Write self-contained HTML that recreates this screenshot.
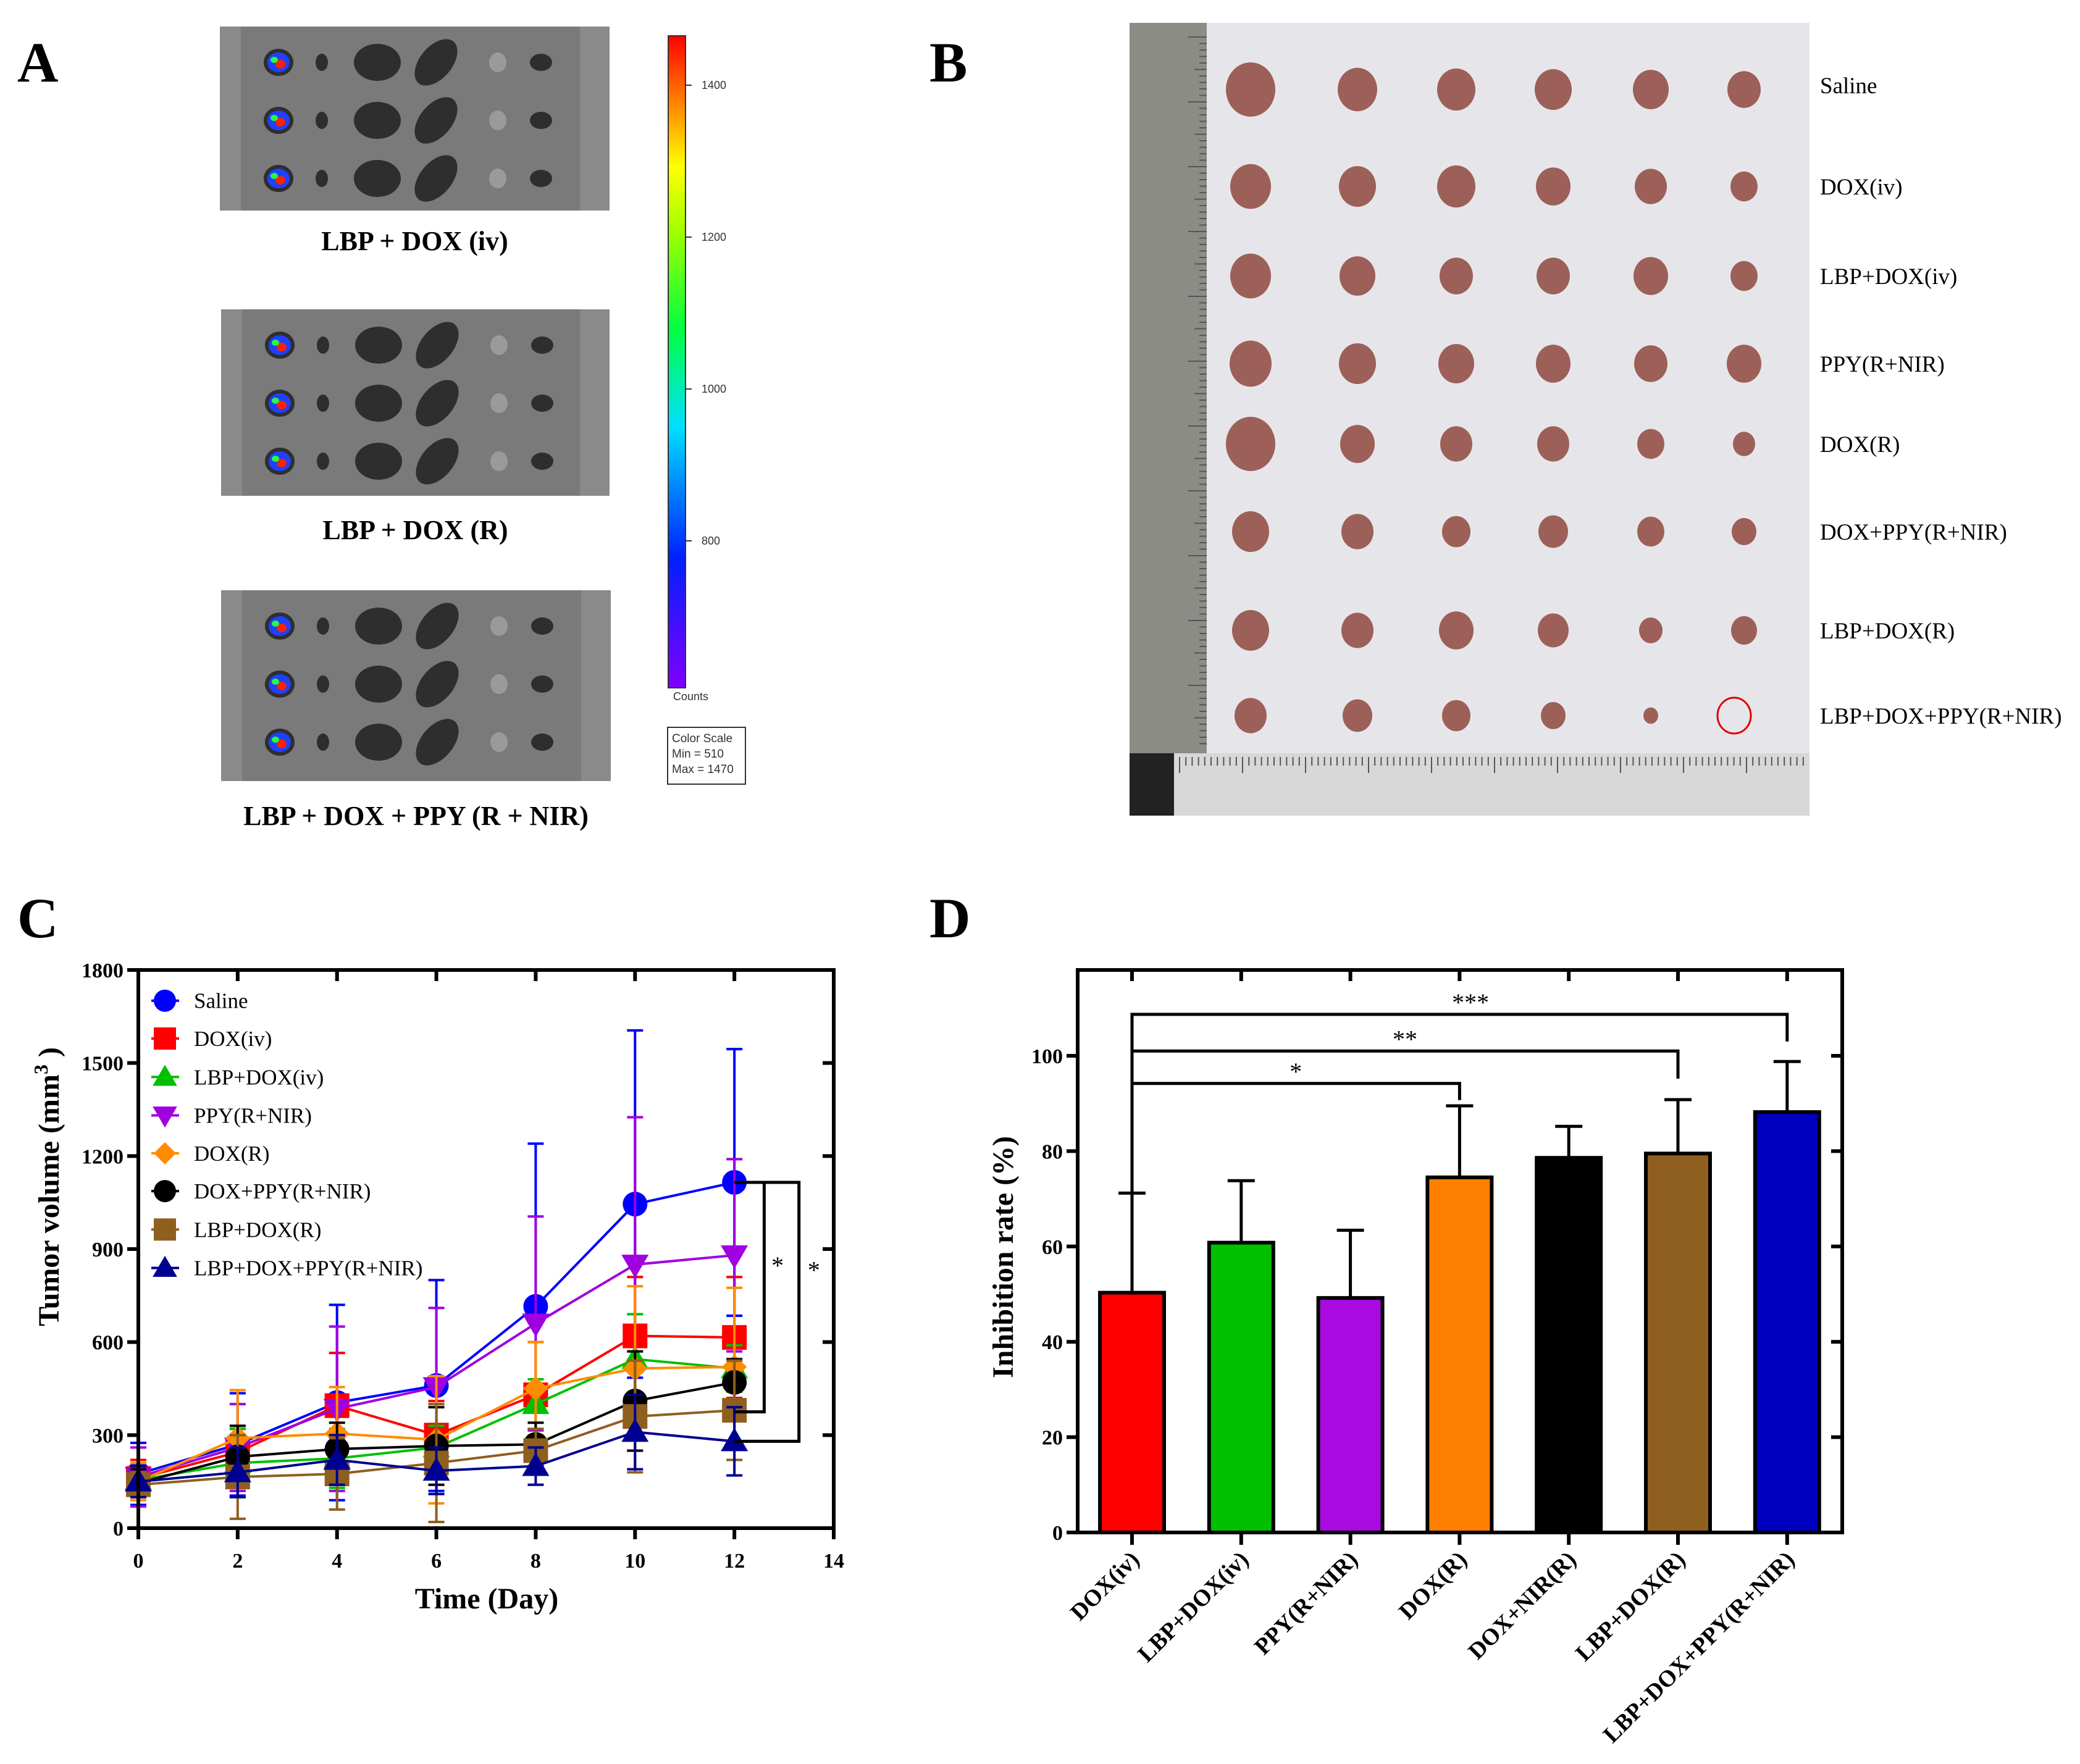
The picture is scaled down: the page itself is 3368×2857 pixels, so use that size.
<!DOCTYPE html>
<html><head><meta charset="utf-8"><style>
html,body{margin:0;padding:0;background:#fff;}
svg{display:block;font-family:"Liberation Serif",serif;}
</style></head><body>
<svg id="fig" width="3368" height="2857" viewBox="0 0 3368 2857" xmlns="http://www.w3.org/2000/svg">
<rect width="3368" height="2857" fill="#fff"/>
<g id="panelA"></g>
<g id="panelB"></g>
<g id="panelC"></g>
<g id="panelD"></g>
</svg>
<script>
// ---- Panel C data ----
const days = [0, 2, 4, 6, 8, 10, 12];
const xTicksC = [0, 2, 4, 6, 8, 10, 12, 14];
const yTicksC = [0, 300, 600, 900, 1200, 1500, 1800];
const seriesNames = ["Saline", "DOX(iv)", "LBP+DOX(iv)", "PPY(R+NIR)", "DOX(R)", "DOX+PPY(R+NIR)", "LBP+DOX(R)", "LBP+DOX+PPY(R+NIR)"];
const seriesColors = ["#0000ff", "#ff0000", "#00c000", "#a000e0", "#ff8c00", "#000000", "#8f5f20", "#000090"];
const seriesMarkers = ["circle", "square", "triangle", "tridown", "diamond", "circle", "square", "triangle"];
const salineVals = [175, 270, 405, 460, 715, 1045, 1115];
const salineErr = [100, 165, 315, 340, 525, 560, 430];
const doxIvVals = [160, 245, 395, 300, 430, 620, 615];
const doxIvErr = [60, 75, 170, 110, 170, 190, 195];
const lbpDoxIvVals = [155, 210, 225, 260, 400, 545, 515];
const lbpDoxIvErr = [45, 110, 95, 70, 80, 145, 75];
const ppyVals = [165, 260, 385, 455, 660, 850, 880];
const ppyErr = [95, 140, 265, 255, 345, 475, 310];
const doxRVals = [150, 290, 305, 285, 450, 515, 520];
const doxRErr = [60, 155, 150, 205, 150, 265, 255];
const doxPpyVals = [145, 230, 255, 265, 270, 410, 470];
const doxPpyErr = [45, 100, 85, 125, 70, 160, 75];
const lbpDoxRVals = [140, 165, 175, 210, 250, 360, 380];
const lbpDoxRErr = [40, 135, 115, 190, 70, 180, 160];
const lbpDoxPpyVals = [150, 180, 220, 185, 200, 310, 280];
const lbpDoxPpyErr = [50, 80, 80, 75, 60, 120, 110];
const allVals = [salineVals, doxIvVals, lbpDoxIvVals, ppyVals, doxRVals, doxPpyVals, lbpDoxRVals, lbpDoxPpyVals];
const allErr = [salineErr, doxIvErr, lbpDoxIvErr, ppyErr, doxRErr, doxPpyErr, lbpDoxRErr, lbpDoxPpyErr];

// ---- Panel D data ----
const categoriesD = ["DOX(iv)", "LBP+DOX(iv)", "PPY(R+NIR)", "DOX(R)", "DOX+NIR(R)", "LBP+DOX(R)", "LBP+DOX+PPY(R+NIR)"];
const inhibitionVals = [50.3, 60.8, 49.2, 74.5, 78.6, 79.5, 88.2];
const inhibitionErrTop = [71.2, 73.8, 63.4, 89.5, 85.2, 90.8, 98.8];
const barColors = ["#ff0000", "#00c000", "#a80ae0", "#ff8000", "#000000", "#8f5f20", "#0000c0"];
const yTicksD = [0, 20, 40, 60, 80, 100];

const NS = "http://www.w3.org/2000/svg";
function mk(parent, tag, attrs, text) {
  const e = document.createElementNS(NS, tag);
  for (const k in attrs) e.setAttribute(k, attrs[k]);
  if (text !== undefined) e.textContent = text;
  parent.appendChild(e);
  return e;
}

// ================= Panel A =================
(function(){
  const g = document.getElementById('panelA');
  const lab = mk(g, 'text', {x: 28, y: 132, 'font-size': 92, 'font-weight': 'bold'}, 'A');
  
  
  const plates = [[356, 43, 631, 298], [358, 501, 629, 302], [358, 956, 631, 309]];
  const captions = ["LBP + DOX (iv)", "LBP + DOX (R)", "LBP + DOX + PPY (R + NIR)"];
  const capY = [405, 873, 1336];
  plates.forEach((p, i) => {
    const pg = mk(g, 'g', {});
    
    
    mk(pg, 'rect', {x: p[0], y: p[1], width: p[2], height: p[3], fill: '#7a7a7a'});
    mk(pg, 'rect', {x: p[0], y: p[1], width: 34, height: p[3], fill: '#8a8a8a'});
    mk(pg, 'rect', {x: p[0] + p[2] - 48, y: p[1], width: 48, height: p[3], fill: '#8a8a8a'});
    const colsX = [95, 165, 255, 350, 450, 520];
    const rw = [24, 10, 38, 26, 14, 18];
    const rh = [22, 14, 30, 44, 16, 14];
    for (let r = 0; r < 3; r++) {
      const cy = p[1] + 58 + r * 94;
      colsX.forEach((cx, c) => {
        mk(pg, 'ellipse', {cx: p[0] + cx, cy: cy, rx: rw[c], ry: rh[c], fill: c === 4 ? '#9a9a9a' : '#2e2e2e', transform: c === 3 ? `rotate(40 ${p[0] + cx} ${cy})` : ''});
      });
      mk(pg, 'ellipse', {cx: p[0] + 95, cy: cy, rx: 18, ry: 16, fill: '#2040ff'});
      mk(pg, 'ellipse', {cx: p[0] + 98, cy: cy + 3, rx: 8, ry: 7, fill: '#ff2000'});
      mk(pg, 'ellipse', {cx: p[0] + 88, cy: cy - 4, rx: 6, ry: 5, fill: '#20ff40'});
    }
    const c = mk(g, 'text', {x: p[0] + p[2] / 2, y: capY[i], 'font-size': 44, 'font-weight': 'bold', 'text-anchor': 'middle'}, captions[i]);
    
    
  });
  const defs = mk(g, 'defs', {});
  const lg = mk(defs, 'linearGradient', {id: 'cbar', x1: 0, y1: 1, x2: 0, y2: 0});
  [['0', '#8000ff'], ['0.2', '#0020ff'], ['0.4', '#00e0ff'], ['0.55', '#00ff40'], ['0.7', '#a0ff00'], ['0.8', '#ffff00'], ['0.9', '#ff8000'], ['1', '#ff0000']].forEach(s => mk(lg, 'stop', {offset: s[0], 'stop-color': s[1]}));
  const cb = mk(g, 'rect', {x: 1082, y: 58, width: 28, height: 1056, fill: 'url(#cbar)', stroke: '#333', 'stroke-width': 2});
  
  
  [['1400', 138], ['1200', 384], ['1000', 630], ['800', 876]].forEach(t => {
    mk(g, 'line', {x1: 1110, x2: 1120, y1: t[1], y2: t[1], stroke: '#333', 'stroke-width': 2});
    mk(g, 'text', {x: 1136, y: t[1] + 6, 'font-size': 18, fill: '#333', 'font-family': 'Liberation Sans, sans-serif'}, t[0]);
  });
  mk(g, 'text', {x: 1090, y: 1134, 'font-size': 18, fill: '#333', 'font-family': 'Liberation Sans, sans-serif'}, 'Counts');
  const box = mk(g, 'g', {});
  
  
  mk(box, 'rect', {x: 1081, y: 1178, width: 126, height: 92, fill: '#fff', stroke: '#333', 'stroke-width': 2});
  ['Color Scale', 'Min = 510', 'Max = 1470'].forEach((t, i) => mk(box, 'text', {x: 1088, y: 1202 + i * 25, 'font-size': 19, fill: '#333', 'font-family': 'Liberation Sans, sans-serif'}, t));
})();

// ================= Panel B =================
(function(){
  const g = document.getElementById('panelB');
  const lab = mk(g, 'text', {x: 1505, y: 132, 'font-size': 92, 'font-weight': 'bold'}, 'B');
  
  
  const ph = mk(g, 'g', {});
  
  
  mk(ph, 'rect', {x: 1829, y: 37, width: 1101, height: 1284, fill: '#e6e6ea'});
  mk(ph, 'rect', {x: 1829, y: 37, width: 125, height: 1190, fill: '#8c8c86'});
  mk(ph, 'rect', {x: 1829, y: 1220, width: 1101, height: 101, fill: '#d8d8d8'});
  mk(ph, 'rect', {x: 1829, y: 1220, width: 72, height: 101, fill: '#222'});
  for (let i = 0; i < 110; i++) {
    const y = 60 + i * 10.5;
    mk(ph, 'line', {x1: 1954, x2: 1954 - (i % 10 === 0 ? 30 : (i % 5 === 0 ? 20 : 12)), y1: y, y2: y, stroke: '#555', 'stroke-width': 2});
  }
  for (let i = 0; i < 100; i++) {
    const x = 1910 + i * 10.2;
    mk(ph, 'line', {x1: x, x2: x, y1: 1226, y2: 1226 + (i % 10 === 0 ? 26 : 14), stroke: '#555', 'stroke-width': 2});
  }
  const colX = [2025, 2198, 2358, 2515, 2673, 2824];
  const rowY = [145, 302, 447, 589, 719, 861, 1021, 1159];
  const sizes = [[40,32,31,30,29,27],[33,30,31,28,26,22],[33,29,27,27,28,22],[34,30,29,28,27,28],[40,28,26,26,22,18],[30,26,23,24,22,20],[30,26,28,25,19,21],[26,24,23,20,12,0]];
  rowY.forEach((y, r) => colX.forEach((x, c) => {
    const s = sizes[r][c];
    if (s > 0) mk(ph, 'ellipse', {cx: x, cy: y, rx: s, ry: s * 1.1, fill: '#9c6058'});
  }));
  mk(ph, 'ellipse', {cx: 2808, cy: 1159, rx: 27, ry: 29, fill: 'none', stroke: '#e00000', 'stroke-width': 3});
  const rowLabels = ["Saline", "DOX(iv)", "LBP+DOX(iv)", "PPY(R+NIR)", "DOX(R)", "DOX+PPY(R+NIR)", "LBP+DOX(R)", "LBP+DOX+PPY(R+NIR)"];
  const labY = [138, 302, 447, 589, 719, 861, 1021, 1159];
  rowLabels.forEach((t, i) => {
    const e = mk(g, 'text', {x: 2947, y: labY[i] + 13, 'font-size': 37}, t);
    
    
  });
})();

// ================= Panel C =================
(function(){
  const g = document.getElementById('panelC');
  const X0 = 224, X1 = 1350, Y0 = 2475, Y1 = 1571;
  const xs = d => X0 + (d - 0) / 14 * (X1 - X0);
  const ys = v => Y0 - v / 1800 * (Y0 - Y1);
  const lab = mk(g, 'text', {x: 28, y: 1518, 'font-size': 92, 'font-weight': 'bold'}, 'C');
  
  

  allVals.forEach((vals, si) => {
    const col = seriesColors[si];
    const sg = mk(g, 'g', {});
    
    
    vals.forEach((v, i) => {
      const x = xs(days[i]), e = allErr[si][i];
      const eb = mk(sg, 'path', {d: `M${x},${ys(v - e)}V${ys(v + e)}M${x - 13},${ys(v + e)}h26M${x - 13},${ys(v - e)}h26`, stroke: col, 'stroke-width': 4, fill: 'none'});
      
      
    });
    const ln = mk(sg, 'polyline', {points: vals.map((v, i) => xs(days[i]) + ',' + ys(v)).join(' '), stroke: col, 'stroke-width': 4, fill: 'none'});
    
    
    vals.forEach((v, i) => {
      const m = drawMarker(sg, seriesMarkers[si], xs(days[i]), ys(v), col, 20);
      
      
    });
  });
  function drawMarker(p, type, x, y, col, r) {
    if (type === 'circle') return mk(p, 'circle', {cx: x, cy: y, r: r, fill: col});
    if (type === 'square') return mk(p, 'rect', {x: x - r, y: y - r, width: 2 * r, height: 2 * r, fill: col});
    if (type === 'triangle') return mk(p, 'polygon', {points: `${x},${y - r * 1.1} ${x - r * 1.1},${y + r * 0.8} ${x + r * 1.1},${y + r * 0.8}`, fill: col});
    if (type === 'tridown') return mk(p, 'polygon', {points: `${x},${y + r * 1.1} ${x - r * 1.1},${y - r * 0.8} ${x + r * 1.1},${y - r * 0.8}`, fill: col});
    return mk(p, 'polygon', {points: `${x},${y - r} ${x + r},${y} ${x},${y + r} ${x - r},${y}`, fill: col});
  }
  const br = mk(g, 'g', {fill: 'none', stroke: '#000', 'stroke-width': 5});
  
  
  mk(br, 'path', {d: `M${xs(12)},${ys(salineVals[6])}H${xs(12.6)}V${ys(lbpDoxRVals[6] - 5)}H${xs(12)}`});
  mk(br, 'path', {d: `M${xs(12)},${ys(salineVals[6])}H${xs(13.3)}V${ys(lbpDoxPpyVals[6])}H${xs(12)}`});
  mk(g, 'text', {x: xs(12.87), y: ys(820), 'font-size': 40, 'text-anchor': 'middle'}, '*');
  mk(g, 'text', {x: xs(13.6), y: ys(805), 'font-size': 40, 'text-anchor': 'middle'}, '*');

  const ax = mk(g, 'g', {stroke: '#000', 'stroke-width': 6, fill: 'none'});
  
  
  mk(ax, 'rect', {x: X0, y: Y1, width: X1 - X0, height: Y0 - Y1});
  xTicksC.forEach(t => {
    mk(ax, 'line', {x1: xs(t), x2: xs(t), y1: Y0, y2: Y0 + 18});
    if (t > 0 && t < 14) mk(ax, 'line', {x1: xs(t), x2: xs(t), y1: Y1, y2: Y1 + 18});
    const tl = mk(g, 'text', {x: xs(t), y: Y0 + 64, 'font-size': 34, 'font-weight': 'bold', 'text-anchor': 'middle'}, String(t));
    
    
  });
  yTicksC.forEach(t => {
    mk(ax, 'line', {x1: X0 - 18, x2: X0, y1: ys(t), y2: ys(t)});
    if (t > 0 && t < 1800) mk(ax, 'line', {x1: X1 - 18, x2: X1, y1: ys(t), y2: ys(t)});
    const tl = mk(g, 'text', {x: X0 - 24, y: ys(t) + 12, 'font-size': 34, 'font-weight': 'bold', 'text-anchor': 'end'}, String(t));
    
    
  });
  const xt = mk(g, 'text', {x: 788, y: 2605, 'font-size': 48, 'font-weight': 'bold', 'text-anchor': 'middle'}, 'Time (Day)');
  
  
  const yt = mk(g, 'text', {x: 0, y: 0, 'font-size': 48, 'font-weight': 'bold', 'text-anchor': 'middle', transform: 'translate(95,1922) rotate(-90)'});
  
  
  yt.appendChild(document.createTextNode('Tumor volume (mm'));
  mk(yt, 'tspan', {dy: -18, 'font-size': 32}, '3');
  mk(yt, 'tspan', {dy: 18}, ' )');
  const lgg = mk(g, 'g', {});
  
  
  const legY = [1701, 1579, 1455, 1331, 1209, 1087, 963, 839];
  seriesNames.forEach((n, i) => {
    const y = ys(legY[i]);
    const eg = mk(lgg, 'g', {});
    
    
    mk(eg, 'line', {x1: 245, x2: 290, y1: y, y2: y, stroke: seriesColors[i], 'stroke-width': 4});
    drawMarker(eg, seriesMarkers[i], 267, y, seriesColors[i], 18);
    mk(eg, 'text', {x: 314, y: y + 12, 'font-size': 35}, n);
  });
})();

// ================= Panel D =================
(function(){
  const g = document.getElementById('panelD');
  const X0 = 1745, X1 = 2983, Y0 = 2482, Y1 = 1571;
  const c0 = 1833, step = 176.8;
  const xc = i => c0 + i * step;
  const ys = v => Y0 - v * 7.72;
  const lab = mk(g, 'text', {x: 1505, y: 1518, 'font-size': 92, 'font-weight': 'bold'}, 'D');
  
  
  const bw = 104;
  inhibitionVals.forEach((v, i) => {
    const x = xc(i);
    const eb = mk(g, 'path', {d: `M${x},${ys(v)}V${ys(inhibitionErrTop[i])}M${x - 22},${ys(inhibitionErrTop[i])}h44`, stroke: '#000', 'stroke-width': 5, fill: 'none'});
    
    
    const b = mk(g, 'rect', {x: x - bw / 2, y: ys(v), width: bw, height: Y0 - ys(v), fill: barColors[i], stroke: '#000', 'stroke-width': 6});
    
    
  });
  const br = mk(g, 'g', {fill: 'none', stroke: '#000', 'stroke-width': 5});
  
  
  mk(br, 'path', {d: `M${xc(0)},${ys(inhibitionErrTop[0])}V${ys(108.7)}H${xc(6)}V${ys(103)}`});
  mk(br, 'path', {d: `M${xc(0)},${ys(101)}H${xc(5)}V${ys(95.2)}`});
  mk(br, 'path', {d: `M${xc(0)},${ys(94.2)}H${xc(3)}V${ys(90.7)}`});
  mk(g, 'text', {x: xc(1.5), y: ys(94.2) - 6, 'font-size': 40, 'text-anchor': 'middle'}, '*');
  mk(g, 'text', {x: xc(2.5), y: ys(101) - 6, 'font-size': 40, 'text-anchor': 'middle'}, '**');
  mk(g, 'text', {x: xc(3.1), y: ys(108.7) - 6, 'font-size': 40, 'text-anchor': 'middle'}, '***');
  const ax = mk(g, 'g', {stroke: '#000', 'stroke-width': 6, fill: 'none'});
  
  
  mk(ax, 'rect', {x: X0, y: Y1, width: X1 - X0, height: Y0 - Y1});
  yTicksD.forEach(t => {
    mk(ax, 'line', {x1: X0 - 18, x2: X0, y1: ys(t), y2: ys(t)});
    if (t > 0) mk(ax, 'line', {x1: X1 - 18, x2: X1, y1: ys(t), y2: ys(t)});
    const tl = mk(g, 'text', {x: X0 - 24, y: ys(t) + 12, 'font-size': 34, 'font-weight': 'bold', 'text-anchor': 'end'}, String(t));
    
    
  });
  categoriesD.forEach((c, i) => {
    const x = xc(i);
    mk(ax, 'line', {x1: x, x2: x, y1: Y0, y2: Y0 + 20});
    mk(ax, 'line', {x1: x, x2: x, y1: Y1, y2: Y1 + 18});
    const tl = mk(g, 'text', {x: 0, y: 0, 'font-size': 38, 'font-weight': 'bold', 'text-anchor': 'end', transform: `translate(${x + 14},${Y0 + 46}) rotate(-45)`}, c);
    
    
  });
  const yt = mk(g, 'text', {x: 0, y: 0, 'font-size': 48, 'font-weight': 'bold', 'text-anchor': 'middle', transform: 'translate(1640,2036) rotate(-90)'}, 'Inhibition rate (%)');
  
  
})();
</script>
</body></html>
